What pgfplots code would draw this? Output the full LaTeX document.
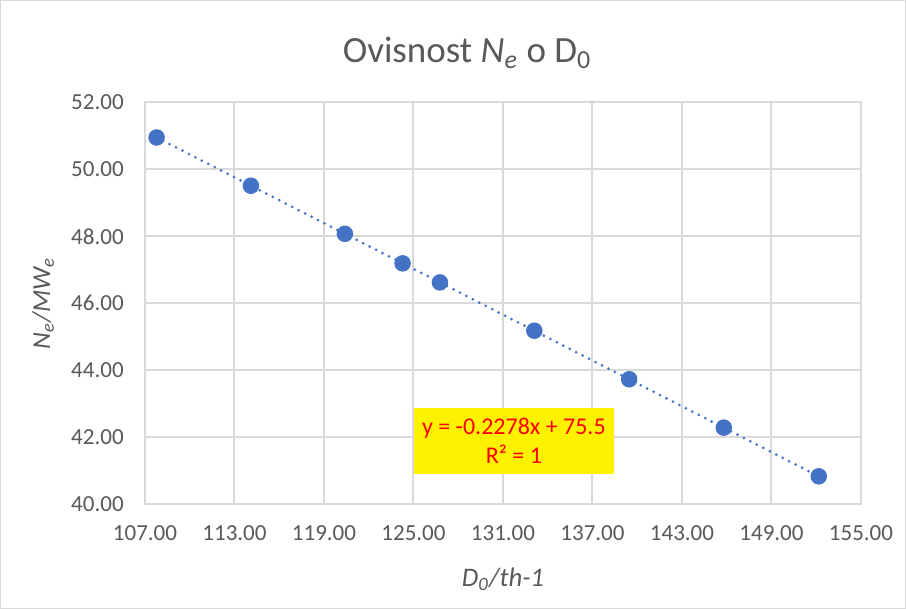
\documentclass[border=0pt]{standalone}
\usepackage{fontspec}
\setmainfont{Carlito}
\usepackage{pgfplots}
\pgfplotsset{compat=1.18}
\definecolor{pt}{RGB}{68,114,196}
\definecolor{gridc}{RGB}{217,217,217}
\definecolor{txt}{RGB}{89,89,89}
\begin{document}
\begin{tikzpicture}
\draw[gridc, line width=0.4pt, fill=white] (0.2pt,0.2pt) rectangle (362.2pt,243.4pt);
\begin{axis}[
  at={(58pt,41.9pt)}, anchor=south west,
  scale only axis, width=286.4pt, height=160.8pt,
  xmin=107, xmax=155, ymin=40, ymax=52,
  xtick={107,113,...,155}, ytick={40,42,...,52},
  grid=major, major grid style={gridc, line width=0.8pt},
  axis line style={gridc, line width=0.8pt},
  tick style={draw=none},
  ticklabel style={font=\fontsize{9.2pt}{11pt}\selectfont, text=txt},
  /pgf/number format/assume math mode=true,
  /pgf/number format/.cd, fixed, fixed zerofill, precision=2, /tikz/.cd,
  xticklabel style={yshift=-5pt},
  yticklabel style={xshift=-5pt},
  title={\fontsize{14.8pt}{17pt}\selectfont Ovisnost \textit{N\textsubscript{e}} o D\textsubscript{0}},
  title style={text=txt, at={(0.45,1)}, anchor=south, yshift=4pt},
  xlabel={\fontsize{10.7pt}{12pt}\selectfont\textit{D\textsubscript{0}/th-1}},
  ylabel={\fontsize{10.4pt}{12pt}\selectfont\textit{N\textsubscript{e}/MW\textsubscript{e}}},
  xlabel style={text=txt, yshift=-4pt},
  ylabel style={text=txt, yshift=0pt},
  clip=false,
]
\addplot[pt, line width=1.2pt, line cap=round, dash pattern=on 0pt off 2.9pt, forget plot] coordinates {(107.78,50.948) (152.17,40.834)};
\addplot[only marks, mark=*, mark size=3.1pt, mark options={fill=pt, draw=pt}] coordinates {
(107.78,50.948) (114.1,49.508) (120.4,48.073) (124.27,47.191) (126.77,46.622)
(133.1,45.180) (139.46,43.731) (145.8,42.287) (152.17,40.834)};
\node[fill=yellow, text=red, align=center, inner sep=0pt, minimum width=79.8pt, minimum height=26.7pt, font=\fontsize{9.6pt}{11.8pt}\selectfont] at (axis cs:131.73,41.89) {y = -0.2278x + 75.5\\R² = 1};
\end{axis}
\end{tikzpicture}
\end{document}
